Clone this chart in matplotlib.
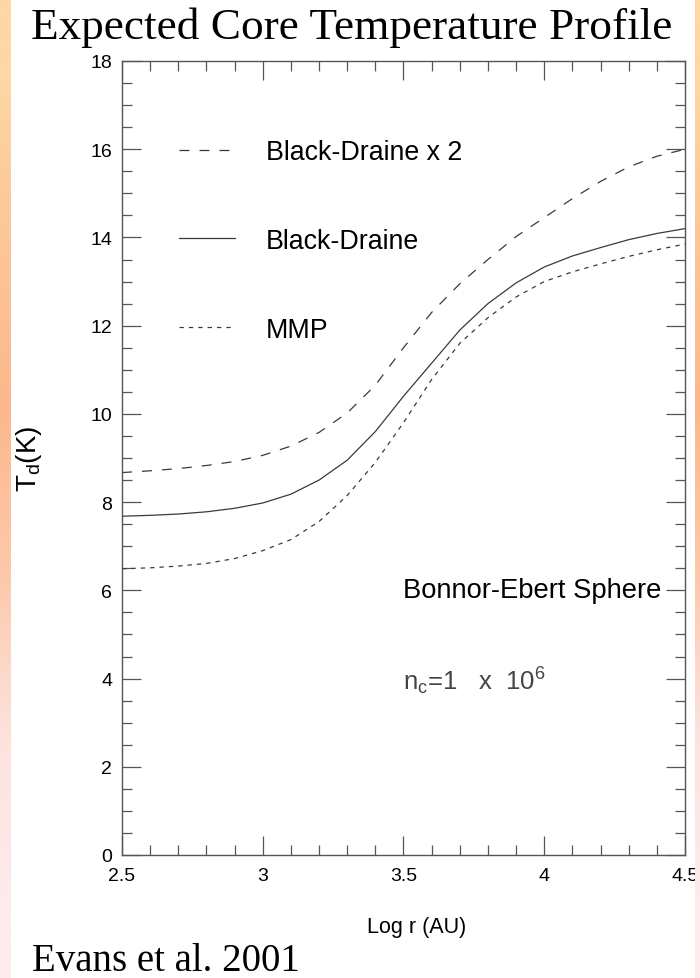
"""
Expected Core Temperature Profile -- Bonnor-Ebert sphere (Evans et al. 2001)
"""

import matplotlib
matplotlib.use("Agg")
import matplotlib.pyplot as plt
import numpy as np

# ── DATA ─────────────────────────────────────────────────────────────────
LOG_R = [2.5, 2.6, 2.7, 2.8, 2.9, 3.0, 3.1, 3.2, 3.3, 3.4, 3.5,
         3.6, 3.7, 3.8, 3.9, 4.0, 4.1, 4.2, 4.3, 4.4, 4.5]

T_BD_X2 = [8.67, 8.71, 8.76, 8.83, 8.92, 9.06, 9.27, 9.58, 10.02, 10.65, 11.5,
           12.3, 12.95, 13.5, 14.02, 14.45, 14.88, 15.27, 15.6, 15.84, 16.0]
T_BD = [7.68, 7.70, 7.73, 7.78, 7.86, 7.98, 8.18, 8.5, 8.95, 9.6, 10.4,
        11.15, 11.9, 12.5, 12.97, 13.33, 13.58, 13.77, 13.95, 14.09, 14.2]
T_MMP = [6.49, 6.51, 6.55, 6.61, 6.72, 6.9, 7.15, 7.56, 8.15, 8.9, 9.8,
         10.78, 11.6, 12.18, 12.65, 13.0, 13.22, 13.4, 13.57, 13.72, 13.85]

LABELS = ["Black-Draine x 2", "Black-Draine", "MMP"]

# background strip colours (top -> bottom)
STRIP_COLS = [(253, 215, 165), (252, 198, 150), (252, 184, 140),
              (252, 200, 170), (253, 226, 220), (253, 234, 236)]

SANS = ["Liberation Sans", "DejaVu Sans"]
SERIF = ["Liberation Serif", "DejaVu Serif"]
plt.rcParams["font.family"] = SANS
plt.rcParams["mathtext.fontset"] = "custom"
plt.rcParams["mathtext.rm"] = "Liberation Sans"
plt.rcParams["mathtext.it"] = "Liberation Sans:italic"

LINE_C = "#3a3a3a"
AX_C = "#555555"

fig = plt.figure(figsize=(7.0, 9.79), dpi=100, facecolor="white")
ax = fig.add_axes([122 / 700, 1 - 856 / 979, 563 / 700, 794 / 979])

ax.plot(LOG_R, T_BD_X2, color=LINE_C, lw=0.9, dashes=(8, 8), label=LABELS[0])
ax.plot(LOG_R, T_BD, color=LINE_C, lw=0.9, label=LABELS[1])
ax.plot(LOG_R, T_MMP, color=LINE_C, lw=0.9, dashes=(3.5, 4), label=LABELS[2])

ax.set_xlim(2.5, 4.5)
ax.set_ylim(0, 18)
ax.set_xticks([2.5, 3, 3.5, 4, 4.5])
ax.set_xticklabels(["2.5", "3", "3.5", "4", "4.5"])
ax.set_xticks(np.arange(2.5, 4.51, 0.1), minor=True)
ax.set_yticks(np.arange(0, 19, 2))
ax.set_yticks(np.arange(0, 18.1, 0.5), minor=True)

ax.tick_params(which="both", direction="in", top=True, right=True,
               color=AX_C, width=0.9, labelsize=14)
ax.tick_params(axis="x", pad=9)
ax.tick_params(axis="y", pad=7)
ax.tick_params(which="major", length=14)
ax.tick_params(which="minor", length=7.5)
for s in ax.spines.values():
    s.set_color(AX_C)
    s.set_linewidth(1.0)

ax.set_xlabel("Log r (AU)", fontsize=15.5)
ax.xaxis.set_label_coords(0.524, -0.077)
ax.set_ylabel(r"T$_{\rm d}$(K)", fontsize=20)
ax.yaxis.set_label_coords(-0.138, 0.5)

leg = ax.legend(loc="upper left", bbox_to_anchor=(0.058, 0.932), frameon=False,
                fontsize=19.3, handlelength=2.1, handletextpad=1.15,
                labelspacing=2.34)

ax.text(3.5, 6.0, "Bonnor-Ebert Sphere", fontsize=19.7, va="center", ha="left")
ax.text(3.5, 3.97, r"n$_{\rm c}$=1   x  10$^{6}$", fontsize=18.5, va="center",
        ha="left", color="#444444")

# slide text
fig.text(352 / 700, 1 - 28 / 979, "Expected Core Temperature Profile",
         family=SERIF, fontsize=32.6, ha="center", va="center")
fig.text(32 / 700, 1 - 962 / 979, "Evans et al. 2001", family=SERIF,
         fontsize=28, ha="left", va="center")

# orange slide edges
grad = np.array(STRIP_COLS, dtype=float)[:, None, :] / 255.0
for rect in ([0, 0, 11 / 700, 1], [695 / 700, 0, 5 / 700, 1]):
    bax = fig.add_axes(rect)
    bax.imshow(grad, aspect="auto", interpolation="bilinear")
    bax.set_axis_off()

fig.savefig("out.png", dpi=100, facecolor="white")
